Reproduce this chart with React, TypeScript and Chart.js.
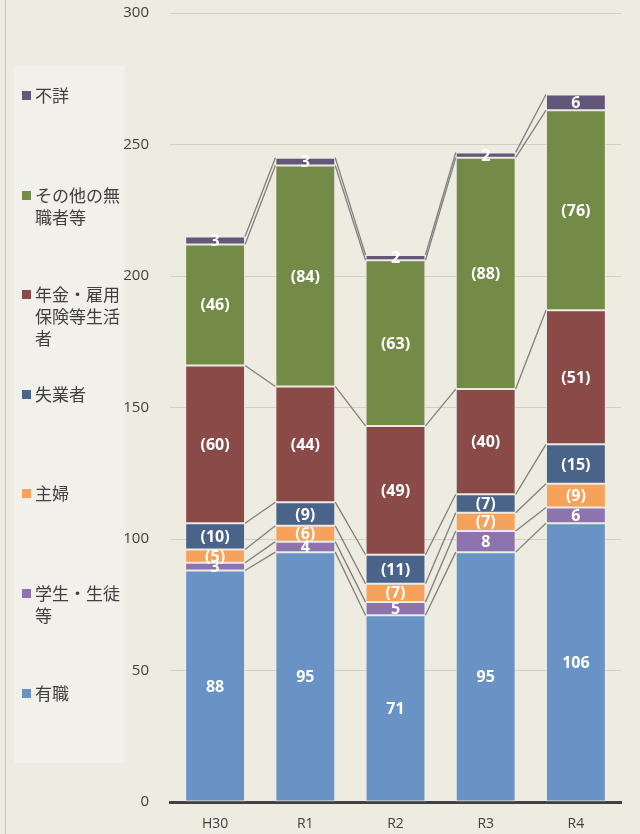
import React, { useEffect, useRef } from "react";
import { Chart, registerables } from "chart.js";

Chart.register(...registerables);

const categories = ["H30", "R1", "R2", "R3", "R4"];
const seriesNames = ["有職", "学生・生徒等", "主婦", "失業者", "年金・雇用保険等生活者", "その他の無職者等", "不詳"];
const yuushoku = [88, 95, 71, 95, 106];
const gakusei = [3, 4, 5, 8, 6];
const shufu = [5, 6, 7, 7, 9];
const shitsugyou = [10, 9, 11, 7, 15];
const nenkin = [60, 44, 49, 40, 51];
const sonota = [46, 84, 63, 88, 76];
const fushou = [3, 3, 2, 2, 6];
const seriesValues = [yuushoku, gakusei, shufu, shitsugyou, nenkin, sonota, fushou];
const inParens = [false, false, true, true, true, true, false];
const seriesColors = ["#6893c4", "#8e74ae", "#f6a25a", "#4a6388", "#8a4a47", "#748a47", "#645679"];
const yTicks = [0, 50, 100, 150, 200, 250, 300];

const LABEL_FONT = '"Open Sans", "Noto Sans", sans-serif';

const connectorPlugin = {
  id: "connectors",
  afterDatasetsDraw(chart: any) {
    const ctx = chart.ctx;
    ctx.save();
    ctx.strokeStyle = "#7f7f7f";
    ctx.lineWidth = 1.3;
    chart.data.datasets.forEach((_: any, d: number) => {
      const meta = chart.getDatasetMeta(d);
      for (let i = 0; i < meta.data.length - 1; i++) {
        const a = meta.data[i];
        const b = meta.data[i + 1];
        ctx.beginPath();
        ctx.moveTo(a.x + a.width / 2, a.y);
        ctx.lineTo(b.x - b.width / 2, b.y);
        ctx.stroke();
      }
    });
    ctx.fillStyle = "#ffffff";
    ctx.font = `bold 16px ${LABEL_FONT}`;
    ctx.textAlign = "center";
    ctx.textBaseline = "middle";
    chart.data.datasets.forEach((ds: any, d: number) => {
      const meta = chart.getDatasetMeta(d);
      meta.data.forEach((el: any, i: number) => {
        const v = ds.data[i];
        const txt = inParens[d] ? `(${v})` : `${v}`;
        ctx.fillText(txt, el.x, (el.y + el.base) / 2 + 1);
      });
    });
    ctx.restore();
  },
};

export default function App() {
  const ref = useRef<HTMLCanvasElement>(null);
  useEffect(() => {
    const chart = new Chart(ref.current!, {
      type: "bar",
      data: {
        labels: categories,
        datasets: seriesNames.map((name, i) => ({
          label: name,
          data: seriesValues[i],
          backgroundColor: seriesColors[i],
          borderColor: "rgba(235,235,235,0.8)",
          borderWidth: 1,
          borderSkipped: false,
          barPercentage: 0.664,
          categoryPercentage: 1,
        })),
      },
      options: {
        responsive: false,
        animation: false,
        layout: { padding: { left: 0, right: 19, top: 13, bottom: 0 } },
        plugins: { legend: { display: false }, tooltip: { enabled: false } },
        scales: {
          x: {
            stacked: true,
            grid: { display: false, drawTicks: false },
            border: { display: true, color: "#404040", width: 3 },
            ticks: { color: "#404040", font: { family: LABEL_FONT, size: 14 }, padding: 14 },
            afterFit: (s: any) => { s.height = 32; s.paddingLeft = 0; s.paddingRight = 0; },
          },
          y: {
            stacked: true,
            min: 0,
            max: 300,
            z: 1,
            afterBuildTicks: (s: any) => { s.ticks = yTicks.map((v) => ({ value: v })); },
            grid: { color: "rgba(0,0,0,0.12)", drawTicks: false, lineWidth: 1 },
            border: { display: false },
            ticks: { color: "#404040", font: { family: LABEL_FONT, size: 15 }, padding: 21 },
            afterFit: (s: any) => { s.width = 170; s.paddingTop = 0; s.paddingBottom = 0; },
          },
        },
      },
      plugins: [connectorPlugin],
    });
    return () => chart.destroy();
  }, []);

  const legendOrder = seriesNames.map((_, i) => i).reverse();

  return (
    <div style={{ position: "absolute", left: 0, top: 0, width: 640, height: 834, background: "#eeece1", overflow: "hidden" }}>
      <div style={{ position: "absolute", left: 5, top: 0, width: 1, height: 834, background: "#c8c8c8" }} />
      <div style={{ position: "absolute", left: 14, top: 66, width: 111, height: 697, background: "#f1f0ea" }} />
      <canvas ref={ref} width={640} height={834} style={{ position: "absolute", left: 0, top: 0 }} />
      {legendOrder.map((si, k) => {
        const cy = 95 + k * 99.6;
        return (
          <div key={si} style={{ position: "absolute", left: 21, top: cy - 11, width: 110 }}>
            <div style={{ position: "absolute", left: 1, top: 7, width: 9, height: 9, background: seriesColors[si] }} />
            <div
              style={{
                position: "absolute",
                left: 14,
                top: 0,
                width: 87,
                fontFamily: '"Noto Sans CJK JP", sans-serif',
                fontSize: 17,
                lineHeight: "22px",
                color: "#404040",
                wordBreak: "break-all",
              }}
            >
              {seriesNames[si]}
            </div>
          </div>
        );
      })}
    </div>
  );
}
